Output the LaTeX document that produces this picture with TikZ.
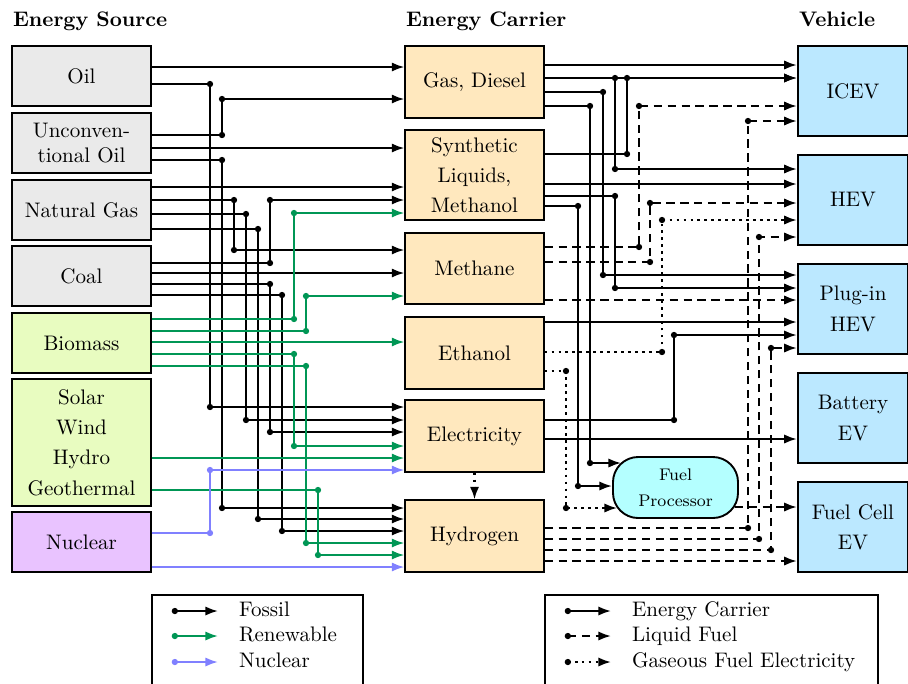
\documentclass[tikz,border=0pt]{standalone}
\usepackage{xcolor}
\usepackage{tikz}
\usetikzlibrary{arrows.meta}
\definecolor{srcgray}{RGB}{234,234,234}
\definecolor{srcgreen}{RGB}{232,252,192}
\definecolor{srcviolet}{RGB}{233,195,255}
\definecolor{carrierfill}{RGB}{255,232,190}
\definecolor{vehiclefill}{RGB}{187,232,255}
\definecolor{procfill}{RGB}{180,255,255}
\definecolor{renewgreen}{RGB}{0,150,85}
\definecolor{nuclearblue}{RGB}{128,128,255}

\begin{document}
\begin{tikzpicture}[x=0.475pt, y=-0.475pt, >={Latex[length=6pt,width=4.4pt]}, line width=1pt,
    box/.style={draw, line width=0.6pt, minimum width=66pt, align=center, font=\linespread{1.2}\selectfont},
    src/.style={box, fill=srcgray, minimum height=28.5pt},
    carr/.style={box, fill=carrierfill, minimum height=34.2pt},
    veh/.style={box, fill=vehiclefill, line width=1.1pt, minimum width=52.25pt, minimum height=42.75pt},
    head/.style={anchor=base west, inner sep=0pt, font=\bfseries},
    legtext/.style={anchor=west, inner sep=0pt, text height=1.5ex, text depth=.25ex},
    jdot/.style={circle, fill, inner sep=0pt, minimum size=3pt},
    fossil/.style={->, black},
    renew/.style={->, color=renewgreen},
    nucl/.style={->, color=nuclearblue},
    carrier/.style={->, black},
    liquid/.style={->, dash pattern=on 4pt off 2.6pt},
    gaseous/.style={->, dash pattern=on 1.3pt off 2pt}]
    \useasboundingbox (0,0) rectangle (908,683);
    \node[head] (hsrc) at (12,26) {Energy Source};
    \node[head] (hcar) at (405,26) {Energy Carrier};
    \node[head] (hveh) at (798,26) {Vehicle};
    \node[src] (oil) at (81.5,76) {Oil};
    \node[src, font=\linespread{1}\selectfont] (uoil) at (81.5,143) {Unconven-\\tional Oil};
    \node[src] (ngas) at (81.5,210) {Natural Gas};
    \node[src] (coal) at (81.5,276) {Coal};
    \node[src, fill=srcgreen] (bio) at (81.5,343) {Biomass};
    \node[src, fill=srcgreen, minimum height=60.3pt] (solar) at (81.5,442.5) {Solar\\Wind\\Hydro\\Geothermal};
    \node[src, fill=srcviolet] (nuc) at (81.5,542) {Nuclear};
    \node[carr] (gasd) at (474.5,82) {Gas, Diesel};
    \node[carr, minimum height=42.75pt, inner ysep=1pt] (synth) at (474.5,175) {Synthetic\\Liquids,\\Methanol};
    \node[carr, minimum height=33.7pt] (meth) at (474.5,268.5) {Methane};
    \node[carr] (eth) at (474.5,353) {Ethanol};
    \node[carr] (elec) at (474.5,436) {Electricity};
    \node[carr] (hyd) at (474.5,536) {Hydrogen};
    \node[veh] (icev) at (853,91) {ICEV};
    \node[veh] (hev) at (853,200) {HEV};
    \node[veh] (phev) at (853,309) {Plug-in\\HEV};
    \node[veh] (bev) at (853,418) {Battery\\EV};
    \node[veh] (fcev) at (853,527) {Fuel Cell\\EV};
    \node[draw, rounded corners=12pt, fill=procfill, line width=0.9pt,
        minimum width=59.4pt, minimum height=29pt, align=center, font=\linespread{1.3}\footnotesize] (fp) at (675.5,487.5) {Fuel\\Processor};

    \draw[fossil] (oil.east |- 0,67) -- (gasd.west |- 0,67);
    \draw[fossil] (oil.east |- 0,84) -| node[jdot]{} (210,407) node[jdot]{} -- (elec.west |- 0,407);
    \draw[fossil] (uoil.east |- 0,135) -| node[jdot]{} (222,99) node[jdot]{} -- (gasd.west |- 0,99);
    \draw[fossil] (uoil.east |- 0,148) -- (synth.west |- 0,148);
    \draw[fossil] (uoil.east |- 0,160) -| node[jdot]{} (222,508) node[jdot]{} -- (hyd.west |- 0,508);
    \draw[fossil] (ngas.east |- 0,187) -- (synth.west |- 0,187);
    \draw[fossil] (ngas.east |- 0,200) -| node[jdot]{} (234,250) node[jdot]{} -- (meth.west |- 0,250);
    \draw[fossil] (ngas.east |- 0,214) -| node[jdot]{} (246,420) node[jdot]{} -- (elec.west |- 0,420);
    \draw[fossil] (ngas.east |- 0,229) -| node[jdot]{} (258,519) node[jdot]{} -- (hyd.west |- 0,519);
    \draw[fossil] (coal.east |- 0,263) -| node[jdot]{} (270,200) node[jdot]{} -- (synth.west |- 0,200);
    \draw[fossil] (coal.east |- 0,273) -- (meth.west |- 0,273);
    \draw[fossil] (coal.east |- 0,284) -| node[jdot]{} (270,432) node[jdot]{} -- (elec.west |- 0,432);
    \draw[fossil] (coal.east |- 0,295) -| node[jdot]{} (282,531) node[jdot]{} -- (hyd.west |- 0,531);
    \draw[renew] (bio.east |- 0,319) -| node[jdot]{} (294,213) node[jdot]{} -- (synth.west |- 0,213);
    \draw[renew] (bio.east |- 0,331) -| node[jdot]{} (306,296) node[jdot]{} -- (meth.west |- 0,296);
    \draw[renew] (bio.east |- 0,342) -- (eth.west |- 0,342);
    \draw[renew] (bio.east |- 0,354) -| node[jdot]{} (294,446) node[jdot]{} -- (elec.west |- 0,446);
    \draw[renew] (bio.east |- 0,366) -| node[jdot]{} (306,543) node[jdot]{} -- (hyd.west |- 0,543);
    \draw[renew] (solar.east |- 0,458) -- (elec.west |- 0,458);
    \draw[renew] (solar.east |- 0,490) -| node[jdot]{} (318,555) node[jdot]{} -- (hyd.west |- 0,555);
    \draw[nucl] (nuc.east |- 0,533) -| node[jdot]{} (210,470) node[jdot]{} -- (elec.west |- 0,470);
    \draw[nucl] (nuc.east |- 0,567) -- (hyd.west |- 0,567);

    \draw[carrier] (gasd.east |- 0,65) -- (icev.west |- 0,65);
    \draw[carrier] (gasd.east |- 0,78) -- (icev.west |- 0,78);
    \draw[carrier] (gasd.east |- 0,78) -| node[jdot]{} (615,169) node[jdot]{} -- (hev.west |- 0,169);
    \draw[carrier] (synth.east |- 0,154) -| node[jdot]{} (627,78) node[jdot]{} -- (icev.west |- 0,78);
    \draw[carrier] (gasd.east |- 0,92) -| node[jdot]{} (603,275) node[jdot]{} -- (phev.west |- 0,275);
    \draw[carrier] (gasd.east |- 0,106) -| node[jdot]{} (590,463) node[jdot]{} -- ([xshift=4.3pt]fp.west |- 0,463);
    \draw[carrier] (synth.east |- 0,184) -- (hev.west |- 0,184);
    \draw[carrier] (synth.east |- 0,196) -| node[jdot]{} (615,288) node[jdot]{} -- (phev.west |- 0,288);
    \draw[carrier] (synth.east |- 0,206) -| node[jdot]{} (578,486) node[jdot]{} -- (fp.west |- 0,486);
    \draw[carrier] (eth.east |- 0,322) -- (phev.west |- 0,322);
    \draw[carrier] (elec.east |- 0,420) -| node[jdot]{} (674,335) node[jdot]{} -- (phev.west |- 0,335);
    \draw[carrier] (elec.east |- 0,439) -- (bev.west |- 0,439);
    \draw[liquid] (meth.east |- 0,247) -| node[jdot]{} (639,106) node[jdot]{} -- (icev.west |- 0,106);
    \draw[liquid] (meth.east |- 0,262) -| node[jdot]{} (650,203) node[jdot]{} -- (hev.west |- 0,203);
    \draw[liquid] (meth.east |- 0,300) -- (phev.west |- 0,300);
    \draw[liquid] (hyd.east |- 0,528) -| node[jdot]{} (748,121) node[jdot]{} -- (icev.west |- 0,121);
    \draw[liquid] (hyd.east |- 0,539) -| node[jdot]{} (759,237) node[jdot]{} -- (hev.west |- 0,237);
    \draw[liquid] (hyd.east |- 0,550) -| node[jdot]{} (771,348) node[jdot]{} -- (phev.west |- 0,348);
    \draw[liquid] (hyd.east |- 0,561) -- (fcev.west |- 0,561);
    \draw[liquid] ([xshift=-2pt]fp.east |- 0,507) -- (fcev.west |- 0,507);
    \draw[gaseous] (eth.east |- 0,352) -| node[jdot]{} (662,220) node[jdot]{} -- (hev.west |- 0,220);
    \draw[gaseous] (eth.east |- 0,371) -| node[jdot]{} (566,508) node[jdot]{} -- ([xshift=2.4pt]fp.west |- 0,508);
    \draw[gaseous] (elec.south) -- (hyd.north);

    \draw[line width=0.6pt] (152,595) rectangle (363,700);
    \draw[line width=0.6pt] (545,595) rectangle (878,700);
    \node[legtext] (lfos) at (238,611) {Fossil};
    \node[legtext] (lren) at (238,636) {Renewable};
    \node[legtext] (lnuc) at (238,662) {Nuclear};
    \node[legtext] (lcar) at (631,611) {Energy Carrier};
    \node[legtext] (lliq) at (631,636) {Liquid Fuel};
    \node[legtext] (lgas) at (631,662) {Gaseous Fuel Electricity};
    \draw[fossil] ([xshift=-30pt]lfos.west) node[jdot]{} -- ([xshift=-9.5pt]lfos.west);
    \draw[renew] ([xshift=-30pt]lren.west) node[jdot]{} -- ([xshift=-9.5pt]lren.west);
    \draw[nucl] ([xshift=-30pt]lnuc.west) node[jdot]{} -- ([xshift=-9.5pt]lnuc.west);
    \draw[carrier] ([xshift=-30pt]lcar.west) node[jdot]{} -- ([xshift=-9.5pt]lcar.west);
    \draw[liquid] ([xshift=-30pt]lliq.west) node[jdot]{} -- ([xshift=-9.5pt]lliq.west);
    \draw[gaseous] ([xshift=-30pt]lgas.west) node[jdot]{} -- ([xshift=-9.5pt]lgas.west);
\end{tikzpicture}
\end{document}
